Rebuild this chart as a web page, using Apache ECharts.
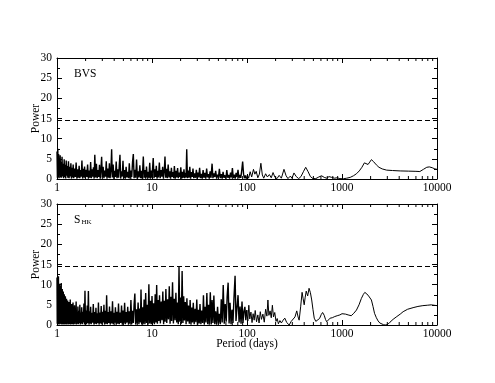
<!DOCTYPE html>
<html>
<head>
<meta charset="utf-8">
<script src="https://cdn.jsdelivr.net/npm/echarts@6/dist/echarts.min.js"></script>
<style>
  html, body { margin: 0; padding: 0; background: #fff; }
  #chart { width: 495px; height: 383px; }
</style>
</head>
<body>
<div id="chart"></div>
<script>
// periodogram values: [period (days), power]
const bvsShort = [
  [1.00,6.8],[1.01,0.3],[1.02,7.5],[1.03,0.5],[1.04,6.2],[1.05,0.2],[1.06,4.8],[1.07,1.0],[1.08,5.9],[1.09,0.4],
  [1.10,4.2],[1.115,0.3],[1.13,5.5],[1.145,0.6],[1.16,3.8],[1.175,0.2],[1.19,4.9],[1.205,0.5],[1.22,3.5],[1.235,0.1],
  [1.25,4.6],[1.265,0.8],[1.28,3.2],[1.30,0.3],[1.32,4.4],[1.34,0.2],[1.36,3.0],[1.38,0.6],[1.40,3.9],[1.42,0.1],
  [1.44,2.8],[1.46,0.4],[1.48,3.6],[1.50,0.2],[1.53,2.6],[1.56,0.5],[1.59,4.1],[1.62,0.1],[1.65,2.4],[1.68,0.3],
  [1.71,3.3],[1.74,0.2],[1.77,2.2],[1.80,0.6],[1.83,4.6],[1.86,0.1],[1.89,2.5],[1.92,0.4],[1.95,3.1],[1.98,0.2],
  [2.02,2.3],[2.06,0.5],[2.10,3.6],[2.14,0.1],[2.18,2.1],[2.22,0.3],[2.26,4.2],[2.30,0.2],[2.34,2.4],[2.38,0.6],
  [2.42,2.9],[2.46,0.1],[2.50,6.0],[2.55,0.4],[2.60,3.8],[2.65,0.2],[2.70,2.2],[2.75,0.5],[2.80,3.5],[2.85,0.1],
  [2.90,2.3],[2.95,5.5],[3.00,0.4],[3.06,3.0],[3.12,0.2],[3.18,2.1],[3.24,0.6],[3.30,4.4],[3.36,0.1],[3.42,2.6],
  [3.50,0.3],[3.56,3.9],[3.62,0.2],[3.70,2.5],[3.76,7.4],[3.82,0.4],[3.90,3.6],[3.97,0.1],[4.04,2.0],[4.12,0.5],
  [4.20,4.3],[4.28,0.2],[4.36,2.4],[4.45,0.3],[4.52,3.2],[4.60,6.0],[4.68,0.1],[4.77,1.9],[4.86,0.6],[4.95,4.5],
  [5.04,0.2],[5.14,2.2],[5.24,0.1],[5.34,3.0],[5.44,0.4],[5.55,1.8],[5.66,0.2],[5.77,3.9],[5.88,0.1],[6.00,2.1],
  [6.12,0.5],[6.24,4.2],[6.36,6.2],[6.48,0.2],[6.61,2.3],[6.74,0.3],[6.88,4.8],[7.02,0.1],[7.16,1.9],[7.30,0.4],
  [7.45,3.4],[7.60,0.2],[7.75,2.0],[7.90,0.1],[8.10,5.6],[8.26,0.3],[8.42,2.2],[8.58,0.1],[8.75,3.1],[8.92,0.4],
  [9.10,1.8],[9.28,0.2],[9.46,4.0],[9.65,0.1],[9.84,2.1],[10.0,0.3]
];
const bvsMid = [
  [10.3,5.2],[10.5,0.2],[10.7,2.4],[10.9,0.5],[11.1,3.3],[11.3,0.1],[11.5,2.0],[11.7,0.4],[11.95,4.1],[12.2,0.2],
  [12.45,2.2],[12.7,0.6],[12.95,3.0],[13.2,0.1],[13.45,1.8],[13.7,5.6],[13.95,0.3],[14.2,2.5],[14.5,0.2],[14.8,3.6],
  [15.1,0.4],[15.4,1.9],[15.7,0.1],[16.0,2.8],[16.3,0.5],[16.6,1.7],[16.9,0.2],[17.2,3.2],[17.55,0.1],[17.9,2.0],
  [18.25,0.4],[18.6,2.7],[18.95,0.2],[19.3,1.6],[19.7,0.5],[20.1,2.9],[20.5,0.1],[20.9,1.8],[21.3,0.3],[21.7,2.4],
  [22.1,0.2],[22.5,1.5],[22.85,0.4],[23.2,7.4],[23.6,0.2],[24.0,2.1],[24.5,0.3],[25.0,3.0],[25.5,0.1],[26.0,1.7],
  [26.5,0.5],[27.0,2.6],[27.5,0.2],[28.1,1.4],[28.7,0.3],[29.3,2.3],[29.9,0.1],[30.5,1.6],[31.1,0.4],[31.7,2.8],
  [32.4,0.2],[33.1,1.3],[33.8,0.1],[34.5,2.2],[35.2,0.3],[36.0,1.5],[36.8,0.1],[37.6,2.6],[38.4,0.4],[39.2,1.2],
  [40.0,0.2],[40.9,1.9],[41.8,0.3],[42.9,3.8],[43.8,0.2],[44.8,1.4],[45.8,0.5],[46.8,2.0],[47.9,0.1],[49.0,1.1],
  [50.1,0.4],[51.2,2.5],[52.4,0.2],[53.6,1.2],[54.8,0.1],[56.0,1.8],[57.3,0.3],[58.6,0.9],[59.9,0.1],[61.3,2.2],
  [62.7,0.3],[64.1,1.0],[65.6,0.1],[67.1,1.6],[68.6,0.4],[70.2,2.7],[71.8,0.2],[73.4,1.1],[75.1,0.1],[76.8,1.5],
  [78.6,0.5],[80.4,2.3],[82.2,0.2],[84.1,1.0],[86.0,0.3],[88.0,2.1],[90.0,4.3],[92.0,1.2],[94.2,0.2],[96.4,0.9],
  [98.6,0.1]
];
const bvsLong = [
  [101,1.0],[104,0.2],[108,1.8],[112,0.5],[117,2.4],[121,1.2],[125,1.9],[130,0.3],[135,1.2],[140,3.9],
  [145,1.0],[150,0.2],[157,1.3],[164,0.5],[172,1.1],[180,0.3],[188,1.6],[197,0.4],[207,0.1],[218,0.9],
  [230,0.2],[245,2.4],[258,0.8],[270,0.1],[285,0.7],[298,0.2],[312,1.5],[330,0.6],[350,0.1],[370,0.6],
  [392,1.8],[415,2.9],[440,1.8],[465,0.6],[495,0.1],[530,0.1],[570,0.5],[610,0.8],[650,0.4],[690,0.2],
  [730,0.6],[780,0.4],[830,0.2],[890,0.3],[950,0.1],[1030,0.05],[1120,0.2],[1220,0.4],[1320,0.8],[1420,1.3],
  [1520,2.0],[1620,2.9],[1720,4.0],[1790,4.4],[1880,3.6],[1960,4.2],[2040,4.8],[2150,4.3],[2300,3.5],[2450,2.9],
  [2650,2.5],[2950,2.2],[3400,2.1],[4100,2.0],[5000,1.95],[6000,1.9],[6600,1.85],[7200,2.4],[7800,2.9],[8300,3.0],
  [8900,2.8],[9500,2.5],[10000,2.4]
];

const hkShort = [
  [1.000,11.8],[1.006,0.3],[1.012,9.5],[1.018,0.6],[1.024,10.6],[1.030,0.2],[1.036,12.1],[1.042,0.8],[1.048,9.0],[1.054,0.1],
  [1.060,10.2],[1.066,0.5],[1.072,8.6],[1.078,0.3],[1.084,9.8],[1.090,0.7],[1.096,8.2],[1.102,0.2],[1.108,10.4],[1.115,0.4],
  [1.122,7.6],[1.129,0.1],[1.136,8.9],[1.143,0.6],[1.150,7.0],[1.157,0.2],[1.164,8.3],[1.171,0.5],[1.178,6.4],[1.185,0.1],
  [1.193,7.6],[1.201,0.4],[1.209,5.9],[1.217,0.2],[1.225,7.1],[1.233,0.6],[1.241,5.4],[1.250,0.1],[1.259,6.5],[1.268,0.3],
  [1.277,5.0],[1.286,0.5],[1.295,6.1],[1.305,0.1],[1.315,4.6],[1.325,0.4],[1.335,5.7],[1.345,0.2],[1.356,4.2],[1.367,0.6],
  [1.378,6.3],[1.389,0.1],[1.400,4.0],[1.412,0.3],[1.424,5.2],[1.436,0.2],[1.448,3.8],[1.461,0.5],[1.474,5.6],[1.487,0.1],
  [1.50,3.6],[1.515,0.4],[1.53,4.9],[1.545,0.2],[1.56,3.4],[1.575,0.6],[1.59,5.8],[1.605,0.1],[1.62,3.2],[1.64,0.3],
  [1.66,4.6],[1.68,0.2],[1.70,3.5],[1.72,0.5],[1.74,5.0],[1.76,0.1],[1.78,3.1],[1.80,0.4],[1.82,4.4],[1.845,0.2],
  [1.87,3.3],[1.895,0.6],[1.92,5.3],[1.945,0.1],[1.97,8.5],[1.995,0.3],[2.02,3.6],[2.05,0.2],[2.08,4.8],[2.11,0.5],
  [2.14,8.4],[2.17,0.1],[2.20,3.4],[2.23,0.4],[2.26,4.5],[2.29,0.2],[2.33,3.0],[2.37,0.6],[2.41,5.2],[2.45,0.1],
  [2.49,3.2],[2.53,0.3],[2.57,4.3],[2.61,0.2],[2.65,2.9],[2.69,0.5],[2.73,5.6],[2.77,0.1],[2.82,3.1],[2.87,0.4],
  [2.92,4.7],[2.97,0.2],[3.02,3.3],[3.07,0.6],[3.12,5.0],[3.17,0.1],[3.23,3.5],[3.28,0.3],[3.33,7.4],[3.39,0.2],
  [3.45,3.2],[3.51,0.5],[3.57,4.6],[3.63,0.1],[3.70,3.4],[3.77,0.4],[3.84,5.9],[3.91,0.2],[3.98,3.0],[4.05,0.6],
  [4.12,4.4],[4.20,0.1],[4.28,3.3],[4.36,0.3],[4.44,5.3],[4.52,0.2],[4.60,3.1],[4.69,0.5],[4.78,4.8],[4.87,0.1],
  [4.96,3.6],[5.05,0.4],[5.15,5.5],[5.25,0.2],[5.35,3.2],[5.45,0.6],[5.55,4.5],[5.66,0.1],[5.77,3.4],[5.88,0.3],
  [6.00,6.2],[6.12,0.2],[6.24,3.5],[6.36,0.5],[6.48,5.1],[6.60,7.8],[6.73,0.1],[6.86,3.9],[7.00,0.4],[7.14,5.6],
  [7.28,0.2],[7.42,4.1],[7.56,0.6],[7.66,8.8],[7.80,0.1],[7.95,4.4],[8.10,0.3],[8.26,6.3],[8.42,0.2],[8.58,7.9],
  [8.75,0.5],[8.92,5.0],[9.09,0.1],[9.27,10.1],[9.45,0.4],[9.63,6.0],[9.82,0.2],[10.0,7.2]
];
const hkMid = [
  [10.2,0.5],[10.4,5.4],[10.6,0.2],[10.8,7.6],[11.0,0.6],[11.2,9.9],[11.4,0.3],[11.6,6.2],[11.8,1.0],[12.0,7.4],
  [12.25,0.4],[12.5,5.8],[12.75,1.2],[13.0,8.3],[13.25,0.2],[13.5,6.0],[13.75,0.8],[14.0,8.9],[14.3,0.5],[14.6,6.4],
  [14.9,1.4],[15.2,9.6],[15.5,0.3],[15.8,7.0],[16.1,1.0],[16.45,10.6],[16.8,0.4],[17.15,6.5],[17.5,1.2],[17.85,8.0],
  [18.2,0.6],[18.55,5.6],[18.9,0.2],[19.25,14.4],[19.6,0.8],[19.95,6.8],[20.35,0.3],[20.75,13.4],[21.15,0.5],[21.55,7.1],
  [21.95,1.1],[22.4,5.7],[22.85,0.2],[23.3,6.6],[23.75,0.9],[24.2,4.8],[24.7,0.3],[25.2,6.2],[25.7,0.1],[26.2,4.3],
  [26.7,0.6],[27.2,5.5],[27.8,0.2],[28.4,4.0],[29.0,0.7],[29.6,6.3],[30.2,0.1],[30.8,3.8],[31.4,0.4],[32.0,5.2],
  [32.7,0.2],[33.4,3.6],[34.1,0.5],[34.8,7.4],[35.5,0.1],[36.2,4.5],[37.0,0.6],[37.8,7.9],[38.6,0.2],[39.4,5.0],
  [40.2,0.3],[41.1,8.1],[42.0,0.1],[42.9,6.2],[43.8,0.5],[44.8,7.3],[45.8,0.2],[46.8,3.4],[47.9,0.1],[49.0,4.5],
  [50.1,0.4],[51.2,2.8],[52.4,0.2],[53.6,6.4],[54.8,0.6],[56.2,9.9],[57.6,0.3],[59.0,5.2],[60.4,0.8],[61.8,7.0],
  [63.3,10.5],[64.8,0.4],[66.3,5.5],[67.9,0.2],[69.5,3.8],[71.2,0.5],[72.9,6.6],[74.9,12.2],[76.6,1.0],[78.4,4.2],
  [80.5,7.4],[82.5,0.6],[84.5,4.6],[86.6,0.3],[88.6,5.8],[90.7,0.5],[92.8,3.4],[95.0,4.5],[97.2,1.2],[99.5,3.7]
];
const hkLong = [
  [102,1.0],[104.5,4.9],[107,1.5],[110,3.2],[113,0.6],[116,2.8],[119,1.2],[122,3.6],[126,0.8],[130,2.5],
  [134,0.5],[138,3.3],[142,1.4],[147,2.7],[152,0.7],[157,3.9],[162,2.2],[166,6.2],[170,2.4],[175,3.5],
  [180,1.8],[185,4.9],[190,2.0],[196,3.1],[202,0.9],[208,1.6],[214,0.3],[222,1.1],[230,0.5],[240,1.2],
  [250,1.7],[262,0.6],[278,0.0],[292,0.9],[305,0.5],[320,2.0],[334,3.5],[345,2.0],[354,1.2],[367,4.5],
  [380,8.1],[390,6.5],[400,5.0],[410,6.9],[420,8.4],[435,7.2],[450,9.1],[465,8.0],[480,6.2],[495,3.8],
  [510,1.7],[530,0.9],[555,0.8],[580,1.6],[605,2.6],[625,3.1],[650,2.4],[670,1.4],[690,0.8],[720,1.2],
  [750,1.7],[790,1.8],[840,2.1],[890,2.3],[950,2.5],[1000,2.8],[1030,2.9],[1090,2.7],[1160,2.5],[1250,2.3],
  [1330,2.9],[1420,3.7],[1510,5.0],[1600,6.6],[1680,7.6],[1740,8.1],[1810,7.7],[1880,7.4],[1960,7.0],[2040,6.2],
  [2120,4.6],[2200,2.9],[2300,1.8],[2400,1.0],[2500,0.5],[2600,0.2],[2750,0.05],[2900,0.0],[3050,0.2],[3200,0.7],
  [3450,1.4],[3780,2.1],[4100,2.7],[4400,3.3],[4900,3.9],[5600,4.3],[6300,4.6],[7100,4.8],[7900,4.9],[8700,5.0],
  [9300,4.9],[10000,4.8]
];

const threshold = 14.6;
const minorPeriods = [2,3,4,5,6,7,8,9,20,30,40,50,60,70,80,90,200,300,400,500,600,700,800,900,2000,3000,4000,5000,6000,7000,8000,9000];

const FONT = 'Liberation Serif';
const chart = echarts.init(document.getElementById('chart'));

function xAx(grid, pos, labels, name) {
  return {
    type: 'log', logBase: 10, min: 1, max: 10000, gridIndex: grid, position: pos,
    name: name || '', nameLocation: 'middle', nameGap: 13, nameMoveOverlap: false,
    nameTextStyle: { fontFamily: FONT, fontSize: 11.5, color: '#000' },
    axisLine: { show: true, onZero: false, lineStyle: { color: '#000', width: 1 } },
    axisTick: { show: true, inside: true, length: 5, lineStyle: { color: '#000' } },
    axisLabel: {
      show: labels, margin: 3, fontFamily: FONT, fontSize: 11.5, color: '#000',
      formatter: v => String(Math.round(v))
    },
    splitLine: { show: false }
  };
}
function yAx(grid, pos, labels) {
  return {
    type: 'value', min: 0, max: 30, interval: 5, gridIndex: grid, position: pos,
    name: labels ? 'Power' : '', nameLocation: 'middle', nameGap: 15, nameMoveOverlap: false,
    nameTextStyle: { fontFamily: FONT, fontSize: 11.5, color: '#000' },
    axisLine: { show: true, onZero: false, lineStyle: { color: '#000', width: 1 } },
    axisTick: { show: true, inside: true, length: 5, lineStyle: { color: '#000' } },
    minorTick: { show: true, splitNumber: 2, length: 3, lineStyle: { color: '#000' } },
    axisLabel: { show: labels, margin: 5, fontFamily: FONT, fontSize: 11.5, color: '#000' },
    splitLine: { show: false }
  };
}
function curve(data, xi, yi, width, withLine) {
  const s = {
    type: 'line', xAxisIndex: xi, yAxisIndex: yi, data: data,
    showSymbol: false, symbol: 'none', sampling: null,
    lineStyle: { color: '#000', width: width }
  };
  if (withLine) {
    s.markLine = {
      silent: true, symbol: 'none', label: { show: false },
      lineStyle: { color: '#000', type: [5, 3], width: 1 },
      data: [{ yAxis: threshold }]
    };
  }
  return s;
}
function minorTicks(xi, yi) {
  return {
    type: 'custom', xAxisIndex: xi, yAxisIndex: yi,
    data: minorPeriods.map(p => [p, 0]),
    encode: { x: 0, y: 1 }, silent: true,
    renderItem: function (params, api) {
      const b = api.coord([api.value(0), 0]);
      const t = api.coord([api.value(0), 30]);
      const st = { stroke: '#000', lineWidth: 1 };
      return {
        type: 'group', children: [
          { type: 'line', shape: { x1: b[0], y1: b[1], x2: b[0], y2: b[1] - 3 }, style: st },
          { type: 'line', shape: { x1: t[0], y1: t[1], x2: t[0], y2: t[1] + 3 }, style: st }
        ]
      };
    }
  };
}

const bvsDense = bvsShort.concat(bvsMid);
const hkDense = hkShort.concat(hkMid);

const option = {
  animation: false,
  backgroundColor: '#fff',
  grid: [
    { left: 57, top: 58, width: 380, height: 121 },
    { left: 57, top: 204, width: 380, height: 121 }
  ],
  xAxis: [
    xAx(0, 'bottom', true), xAx(0, 'top', false),
    xAx(1, 'bottom', true, 'Period (days)'), xAx(1, 'top', false)
  ],
  yAxis: [
    yAx(0, 'left', true), yAx(0, 'right', false),
    yAx(1, 'left', true), yAx(1, 'right', false)
  ],
  title: [
    { text: 'BVS', left: 74, top: 68, padding: 0, textStyle: { fontFamily: FONT, fontSize: 11.5, fontWeight: 'normal', color: '#000' } },
    {
      text: '{s|S}{sub|HK}', left: 74, top: 213, padding: 0,
      textStyle: {
        fontFamily: FONT, fontWeight: 'normal', color: '#000',
        rich: {
          s: { fontFamily: FONT, fontSize: 11.5, color: '#000' },
          sub: { fontFamily: FONT, fontSize: 7, color: '#000', padding: [6, 0, 0, 1] }
        }
      }
    }
  ],
  series: [
    curve(bvsDense, 0, 0, 1.4, true),
    curve([bvsDense[bvsDense.length - 1]].concat(bvsLong), 0, 0, 1, false),
    curve(hkDense, 2, 2, 1.4, true),
    curve([hkDense[hkDense.length - 1]].concat(hkLong), 2, 2, 1, false),
    minorTicks(0, 0),
    minorTicks(2, 2)
  ]
};
chart.setOption(option);
</script>
</body>
</html>
